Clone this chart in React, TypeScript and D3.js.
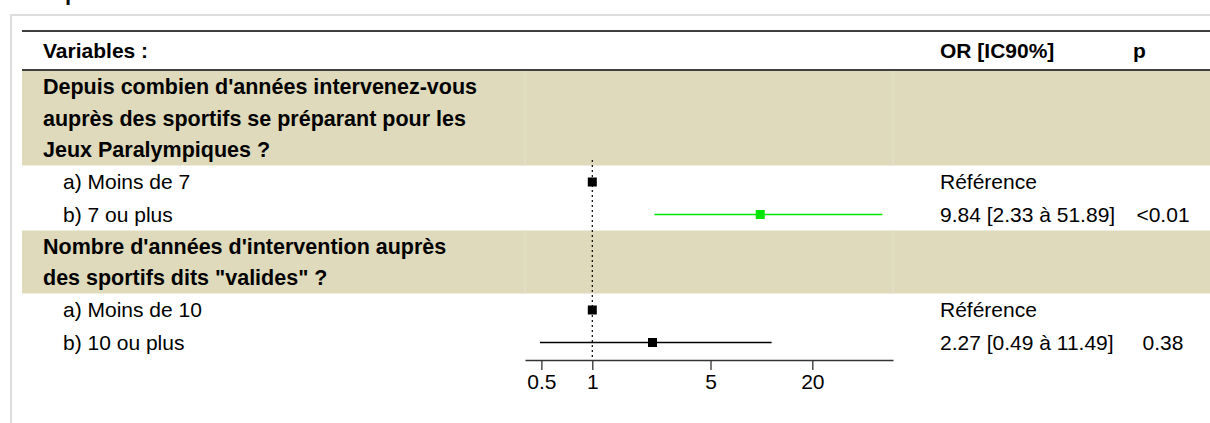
import * as d3 from 'd3';
import { useEffect, useRef } from 'react';

// Données du forest plot
const groupTitles = [
    ["Depuis combien d'années intervenez-vous", 'auprès des sportifs se préparant pour les', 'Jeux Paralympiques ?'],
    ["Nombre d'années d'intervention auprès", 'des sportifs dits "valides" ?'],
];
const levelLabels = [
    ['a) Moins de 7', 'b) 7 ou plus'],
    ['a) Moins de 10', 'b) 10 ou plus'],
];
const oddsRatios = [[1, 9.84], [1, 2.27]];
const lowerCI = [[null, 2.33], [null, 0.49]];
const upperCI = [[null, 51.89], [null, 11.49]];
const orLabels = [
    ['Référence', '9.84 [2.33 à 51.89]'],
    ['Référence', '2.27 [0.49 à 11.49]'],
];
const pLabels = [['', '<0.01'], ['', '0.38']];
const pointColors = [['#000000', '#00e600'], ['#000000', '#000000']];
const axisTicks = [0.5, 1, 5, 20];
const xDomain = [0.4, 60];

const FONT = '"Liberation Sans", Arial, Helvetica, sans-serif';

export default function App() {
    const svgRef = useRef<SVGSVGElement | null>(null);

    useEffect(() => {
        if (!svgRef.current) return;
        const width = 1210;
        const height = 423;
        const svg = d3.select(svgRef.current).attr('width', width).attr('height', height);
        svg.selectAll('*').remove();

        const left = 22;
        const plotLeft = 525;
        const plotRight = 893;
        const bandLine = 31.5;
        const rowH = 32.5;

        const xScale = d3.scaleLog().domain(xDomain).range([plotLeft, plotRight]);

        // cadre gris
        svg.append('rect')
            .attr('x', 11).attr('y', 15)
            .attr('width', width + 20).attr('height', height + 20)
            .attr('fill', 'none').attr('stroke', '#dddddd').attr('stroke-width', 2);

        // bout de texte coupé en haut (comme dans l'original)
        svg.append('text')
            .attr('x', 65).attr('y', 0)
            .attr('font-family', FONT).attr('font-size', 22).attr('font-weight', 'bold')
            .attr('fill', '#111').text('p');

        // en-tête
        svg.append('line').attr('x1', left).attr('x2', width).attr('y1', 31).attr('y2', 31)
            .attr('stroke', '#000').attr('stroke-width', 1.6);
        svg.append('line').attr('x1', left).attr('x2', width).attr('y1', 70).attr('y2', 70)
            .attr('stroke', '#000').attr('stroke-width', 1.6);

        const header = svg.append('g')
            .attr('font-family', FONT).attr('font-size', 21).attr('font-weight', 'bold').attr('fill', '#000');
        header.append('text').attr('x', 43).attr('y', 51).attr('dy', '0.35em').text('Variables :');
        header.append('text').attr('x', 940).attr('y', 51).attr('dy', '0.35em').text('OR [IC90%]');
        header.append('text').attr('x', 1133).attr('y', 51).attr('dy', '0.35em').text('p');

        // calcul des positions des lignes
        let y = 71;
        const bands: { y0: number; y1: number; lines: string[] }[] = [];
        const rows: { cy: number; g: number; i: number }[] = [];
        groupTitles.forEach((lines, g) => {
            bands.push({ y0: y, y1: y + lines.length * bandLine, lines });
            y += lines.length * bandLine;
            levelLabels[g].forEach((_, i) => {
                rows.push({ cy: y + 16.5, g, i });
                y += rowH;
            });
        });

        // bandes beiges
        bands.forEach(b => {
            svg.append('rect')
                .attr('x', left).attr('y', b.y0)
                .attr('width', width - left).attr('height', b.y1 - b.y0)
                .attr('fill', '#dedabb');
            [plotLeft, plotRight].forEach(xv => {
                svg.append('line').attr('x1', xv).attr('x2', xv).attr('y1', b.y0).attr('y2', b.y1)
                    .attr('stroke', '#e5e2c9').attr('stroke-width', 1);
            });
            b.lines.forEach((txt, k) => {
                svg.append('text')
                    .attr('x', 43).attr('y', b.y0 + bandLine * (k + 0.5)).attr('dy', '0.35em')
                    .attr('font-family', FONT).attr('font-size', 21.5).attr('font-weight', 'bold')
                    .attr('fill', '#000').text(txt);
            });
        });

        // ligne de référence OR = 1
        svg.append('line')
            .attr('x1', xScale(1)).attr('x2', xScale(1))
            .attr('y1', 160).attr('y2', 360)
            .attr('stroke', '#000').attr('stroke-width', 1.2).attr('stroke-dasharray', '2,3');

        // lignes des modalités
        rows.forEach(r => {
            const color = pointColors[r.g][r.i];
            svg.append('text')
                .attr('x', 63).attr('y', r.cy).attr('dy', '0.35em')
                .attr('font-family', FONT).attr('font-size', 21).attr('fill', '#000')
                .text(levelLabels[r.g][r.i]);
            svg.append('text')
                .attr('x', 940).attr('y', r.cy).attr('dy', '0.35em')
                .attr('font-family', FONT).attr('font-size', 21).attr('fill', '#000')
                .text(orLabels[r.g][r.i]);
            svg.append('text')
                .attr('x', 1163).attr('y', r.cy).attr('dy', '0.35em').attr('text-anchor', 'middle')
                .attr('font-family', FONT).attr('font-size', 21).attr('fill', '#000')
                .text(pLabels[r.g][r.i]);

            const lo = lowerCI[r.g][r.i];
            const hi = upperCI[r.g][r.i];
            if (lo != null && hi != null) {
                svg.append('line')
                    .attr('x1', xScale(lo)).attr('x2', xScale(hi))
                    .attr('y1', r.cy).attr('y2', r.cy)
                    .attr('stroke', color).attr('stroke-width', 1.6);
            }
            const s = 9;
            svg.append('rect')
                .attr('x', xScale(oddsRatios[r.g][r.i]) - s / 2).attr('y', r.cy - s / 2)
                .attr('width', s).attr('height', s)
                .attr('fill', color);
        });

        // axe
        const axis = d3.axisBottom(xScale)
            .tickValues(axisTicks)
            .tickFormat(d => d3.format('')(d as number))
            .tickSize(10)
            .tickSizeOuter(0)
            .tickPadding(4);
        const gAxis = svg.append('g')
            .attr('transform', 'translate(0,360)')
            .call(axis);
        gAxis.select('.domain').attr('stroke', '#333').attr('stroke-width', 1.3);
        gAxis.selectAll('.tick line').attr('stroke', '#333').attr('stroke-width', 1.3);
        gAxis.selectAll('.tick text')
            .attr('font-family', FONT).attr('font-size', 21).attr('fill', '#000');
    }, []);

    return (
        <div style={{ position: 'absolute', left: 0, top: 0 }}>
            <svg ref={svgRef} style={{ display: 'block' }} />
        </div>
    );
}
